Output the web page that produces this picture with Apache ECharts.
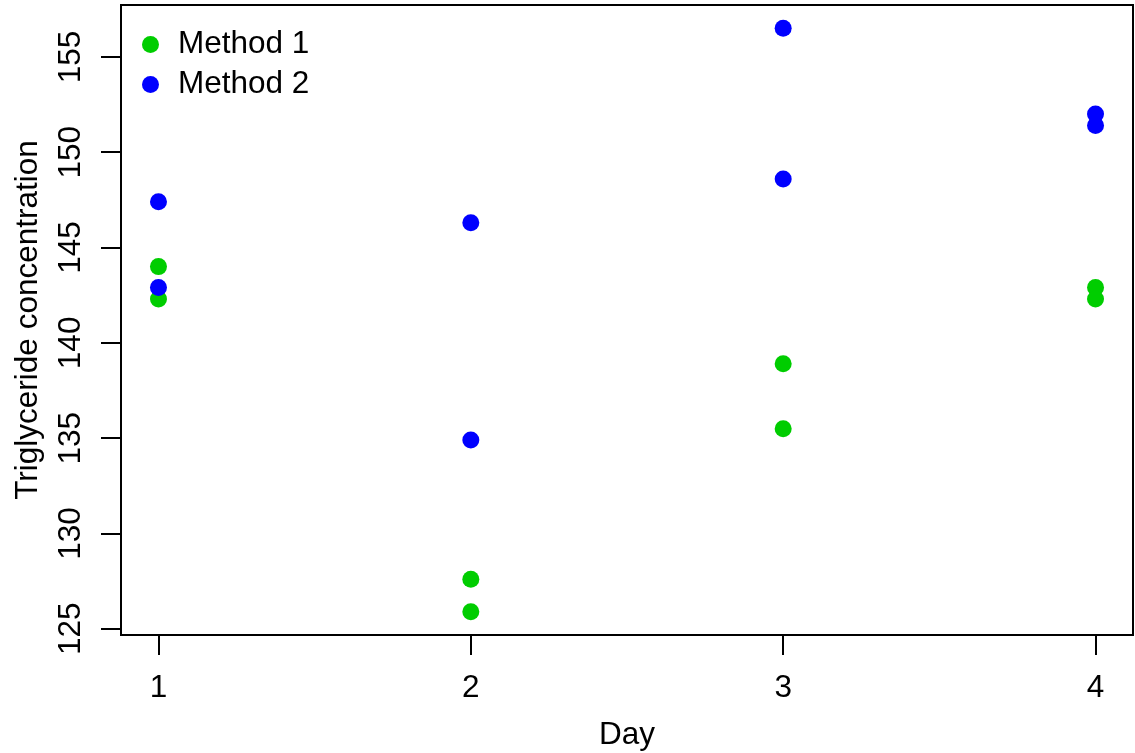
<!DOCTYPE html>
<html>
<head>
<meta charset="utf-8">
<script src="https://cdn.jsdelivr.net/npm/echarts@6/dist/echarts.min.js"></script>
<style>
  html, body { margin: 0; padding: 0; background: #fff; }
  #main { width: 1135px; height: 753px; }
</style>
</head>
<body>
<div id="main"></div>
<script>
// 数据
var days = [1, 1, 2, 2, 3, 3, 4, 4];
var method1 = [144.0, 142.3, 127.6, 125.9, 138.9, 135.5, 142.9, 142.3];
var method2 = [147.4, 142.9, 146.3, 134.9, 156.5, 148.6, 152.0, 151.4];
var xTicks = [1, 2, 3, 4];
var yTicks = [125, 130, 135, 140, 145, 150, 155];

function pairs(vals) {
    return vals.map(function (v, i) { return [days[i], v]; });
}

var font = 'Liberation Sans, Arial, sans-serif';
var fs = 31.5;
var myChart = echarts.init(document.getElementById('main'));

myChart.setOption({
    animation: false,
    grid: {
        left: 121, right: 2, top: 5, bottom: 118,
        outerBoundsMode: 'none',
        show: true, borderColor: '#000', borderWidth: 2
    },
    legend: {
        orient: 'vertical',
        left: 137, top: 23.5,
        itemWidth: 17, itemHeight: 17,
        itemGap: 8,
        icon: 'circle',
        textStyle: { fontFamily: font, fontSize: fs, color: '#000', padding: [0, 0, 0, 14] },
        data: ['Method 1', 'Method 2']
    },
    xAxis: {
        type: 'value',
        min: 0.88, max: 4.12,
        name: 'Day',
        nameLocation: 'middle',
        nameGap: 84,
        nameTextStyle: { fontFamily: font, fontSize: fs, color: '#000' },
        axisLine: { show: false },
        splitLine: { show: false },
        axisTick: { show: true, length: 20, customValues: xTicks, lineStyle: { color: '#000', width: 2 } },
        axisLabel: { customValues: xTicks, margin: 37, fontFamily: font, fontSize: fs, color: '#000' }
    },
    yAxis: {
        type: 'value',
        min: 124.676, max: 157.724,
        name: 'Triglyceride concentration',
        nameLocation: 'middle',
        nameGap: 77,
        nameTextStyle: { fontFamily: font, fontSize: fs, color: '#000' },
        axisLine: { show: false },
        splitLine: { show: false },
        axisTick: { show: true, length: 20, customValues: yTicks, lineStyle: { color: '#000', width: 2 } },
        axisLabel: { customValues: yTicks, rotate: 90, margin: 34, fontFamily: font, fontSize: fs, color: '#000' }
    },
    series: [
        {
            name: 'Method 1', type: 'scatter', symbol: 'circle', symbolSize: 17,
            itemStyle: { color: '#00CD00', opacity: 1 },
            data: pairs(method1)
        },
        {
            name: 'Method 2', type: 'scatter', symbol: 'circle', symbolSize: 17,
            itemStyle: { color: '#0000FF', opacity: 1 },
            data: pairs(method2)
        }
    ]
});
</script>
</body>
</html>
